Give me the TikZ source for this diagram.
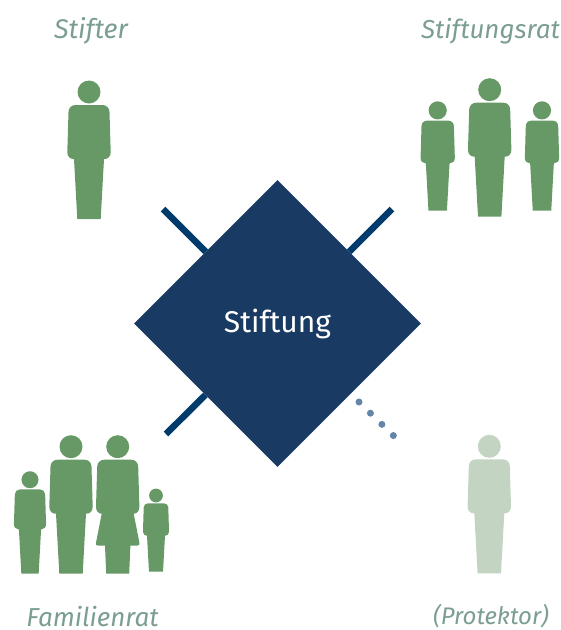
\documentclass[tikz,border=0pt]{standalone}
\usepackage{fontspec}
\setmainfont{Fira Sans}
\usetikzlibrary{shapes.geometric}
\definecolor{figgreen}{HTML}{669966}
\definecolor{figpale}{HTML}{C3D5C2}
\definecolor{labelgreen}{HTML}{7B9E92}
\definecolor{navy}{HTML}{193A63}
\definecolor{linkblue}{HTML}{003B6B}
\definecolor{dotblue}{HTML}{6485A8}
\tikzset{
  x=1pt,y=-1pt,
  figlabel/.style={text=labelgreen, inner sep=0pt, anchor=center},
  link/.style={draw=linkblue, line width=6.5pt},
  dotlink/.style={dotblue, line width=7pt, line cap=round, dash pattern=on 0pt off 16pt},
  pics/manfig/.style={code={
    \fill (0,-127) circle[radius=11.5];
    \fill (-11.7,0) -- (-15,-60) -- (-15.5,-60) .. controls (-19,-60) and (-21.7,-62.5) .. (-21.7,-67) -- (-20.5,-107) .. controls (-20.5,-111) and (-17.5,-114) .. (-13.5,-114) -- (13.5,-114) .. controls (17.5,-114) and (20.5,-111) .. (20.5,-107) -- (21.7,-67) .. controls (21.7,-62.5) and (19,-60) .. (15.5,-60) -- (15,-60) -- (11.7,0) -- cycle;
  }},
  pics/womanfig/.style={code={
    \fill (0,-127) circle[radius=11.5];
    \fill (-11.5,0) -- (-12.7,-28) -- (-19.5,-28) .. controls (-21.5,-28) and (-22,-29.5) .. (-21.7,-31) -- (-16,-60) .. controls (-19,-60) and (-21.7,-62.5) .. (-21.7,-67) -- (-20.5,-107) .. controls (-20.5,-111) and (-17.5,-114) .. (-13.5,-114) -- (13.5,-114) .. controls (17.5,-114) and (20.5,-111) .. (20.5,-107) -- (21.7,-67) .. controls (21.7,-62.5) and (19,-60) .. (16,-60) -- (21.7,-31) .. controls (22,-29.5) and (21.5,-28) .. (19.5,-28) -- (12.7,-28) -- (11.5,0) -- cycle;
  }}
}
\begin{document}
\begin{tikzpicture}
\useasboundingbox (0,0) rectangle (561,630);
\coordinate (ul) at (163,209);
\coordinate (ur) at (392,209);
\coordinate (ll) at (166,434);
\coordinate (dotstart) at (359,402);
\coordinate (dotend) at (393.5,435.7);
\node[diamond, shape aspect=1, fill=navy, inner sep=0pt, minimum width=287pt, minimum height=287pt, text=white, font=\fontsize{30}{32}\selectfont] (stiftung) at (277.5,323.5) {Stiftung};
\draw[link] (ul) -- (stiftung);
\draw[link] (ur) -- (stiftung);
\draw[link] (ll) -- (stiftung);
\draw[dotlink] (dotstart) -- (dotend);
\pic[fill=figgreen] at (89,219) {manfig};
\pic[fill=figgreen] at (489.7,216.7) {manfig};
\pic[fill=figgreen, scale=.79] at (437.7,210.7) {manfig};
\pic[fill=figgreen, scale=.79] at (542,210.7) {manfig};
\pic[fill=figgreen] at (71,573.7) {manfig};
\pic[fill=figgreen] at (117.7,573.7) {womanfig};
\pic[fill=figgreen, scale=.74] at (30,573.7) {manfig};
\pic[fill=figgreen, scale=.6] at (156,571.7) {manfig};
\pic[fill=figpale] at (489.3,573.3) {manfig};
\node[figlabel, font=\fontsize{27}{30}\selectfont\itshape] (stifter) at (91,31) {Stifter};
\node[figlabel, font=\fontsize{26}{30}\selectfont\itshape] (rat) at (490.5,31) {Stiftungsrat};
\node[figlabel, font=\fontsize{26}{30}\selectfont\itshape] (fam) at (92.5,617) {Familienrat};
\node[figlabel, font=\fontsize{24}{30}\selectfont\itshape] (prot) at (491,616.5) {(Protektor)};
\end{tikzpicture}
\end{document}
